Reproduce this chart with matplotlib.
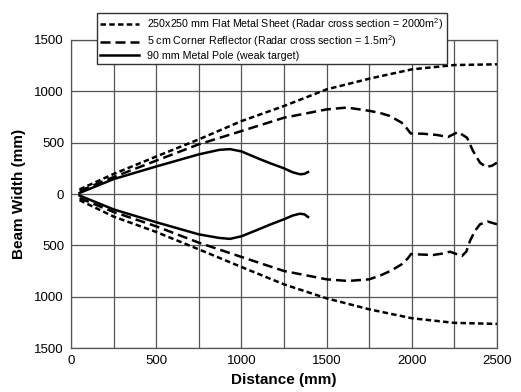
import matplotlib
matplotlib.use("Agg")
import matplotlib.pyplot as plt
from matplotlib.ticker import FuncFormatter

plt.rcParams['font.family'] = ['Liberation Sans', 'DejaVu Sans']
plt.rcParams['mathtext.fontset'] = 'custom'
plt.rcParams['mathtext.rm'] = 'Liberation Sans'
plt.rcParams['mathtext.it'] = 'Liberation Sans'

# 250x250 mm flat metal sheet
sheet_up_x = [50, 250, 500, 750, 1000, 1250, 1500, 1750, 2000, 2250, 2500]
sheet_up_y = [45, 195, 365, 532, 710, 857, 1019, 1123, 1214, 1256, 1263]
sheet_lo_x = [50, 250, 500, 750, 1000, 1250, 1500, 1750, 2000, 2250, 2500]
sheet_lo_y = [-60, -220, -370, -539, -711, -880, -1016, -1123, -1210, -1255, -1265]

# 5 cm corner reflector
corner_up_x = [50, 250, 500, 750, 1000, 1250, 1500, 1620, 1750, 1812, 1871, 1940, 1970,
               1993, 2066, 2148, 2212, 2271, 2324, 2359, 2400, 2435, 2470, 2500]
corner_up_y = [30, 165, 325, 484, 613, 743, 824, 842, 810, 790, 760, 695, 640,
               590, 587, 575, 555, 604, 548, 419, 305, 263, 275, 305]
corner_lo_x = [50, 250, 500, 750, 1000, 1250, 1500, 1625, 1750, 1820, 1880, 1940, 1975,
               1995, 2060, 2125, 2180, 2224, 2294, 2320, 2341, 2370, 2400, 2445, 2500]
corner_lo_y = [-40, -175, -315, -474, -613, -750, -831, -847, -831, -790, -745, -685, -630,
               -585, -590, -594, -580, -562, -604, -560, -458, -360, -295, -268, -295]

# 90 mm metal pole
pole_up_x = [50, 250, 500, 750, 870, 933, 1000, 1100, 1168, 1250, 1300, 1344, 1370, 1391]
pole_up_y = [10, 145, 268, 386, 430, 437, 415, 345, 300, 250, 212, 192, 196, 214]
pole_lo_x = [50, 250, 500, 750, 870, 933, 1000, 1100, 1168, 1250, 1300, 1344, 1370, 1391]
pole_lo_y = [-15, -150, -275, -393, -428, -437, -412, -345, -298, -246, -210, -192, -198, -224]

labels = ['250x250 mm Flat Metal Sheet (Radar cross section = 2000m$^{2}$)',
          '5 cm Corner Reflector (Radar cross section = 1.5m$^{2}$)',
          '90 mm Metal Pole (weak target)']

fig = plt.figure(figsize=(5.21, 3.92), dpi=100)
ax = fig.add_axes([0.1363, 0.1122, 0.8177, 0.7858])

lw = 1.8
l1, = ax.plot(sheet_up_x, sheet_up_y, color='black', lw=lw, dashes=(2.2, 1.3))
ax.plot(sheet_lo_x, sheet_lo_y, color='black', lw=lw, dashes=(2.2, 1.3))
l2, = ax.plot(corner_up_x, corner_up_y, color='black', lw=lw, dashes=(4, 2))
ax.plot(corner_lo_x, corner_lo_y, color='black', lw=lw, dashes=(4, 2))
l3, = ax.plot(pole_up_x, pole_up_y, color='black', lw=lw)
ax.plot(pole_lo_x, pole_lo_y, color='black', lw=lw)

ax.set_xlim(0, 2500)
ax.set_ylim(-1500, 1500)
ax.set_xticks(range(0, 2501, 250), minor=False)
ax.set_xticklabels([str(v) if v % 500 == 0 else '' for v in range(0, 2501, 250)])
ax.set_yticks(range(-1500, 1501, 500))
ax.yaxis.set_major_formatter(FuncFormatter(lambda v, p: str(abs(int(v)))))
ax.tick_params(length=0, labelsize=9.5, pad=5)
ax.grid(True, color='#555555', lw=0.9)
for s in ax.spines.values():
    s.set_color('#555555')
    s.set_linewidth(0.9)
ax.set_axisbelow(True)

ax.set_xlabel('Distance (mm)', fontsize=11, fontweight='bold', labelpad=4)
ax.set_ylabel('Beam Width (mm)', fontsize=11, fontweight='bold', labelpad=6)

leg = ax.legend([l1, l2, l3], labels, loc='upper left', bbox_to_anchor=(0.176, 0.98),
                bbox_transform=fig.transFigure, fontsize=7.7, handlelength=3.6,
                labelspacing=0.12, borderpad=0.3, handletextpad=0.8,
                fancybox=False, framealpha=1, edgecolor='#333333')
leg.get_frame().set_linewidth(1.0)

fig.savefig('out.png', dpi=100)
